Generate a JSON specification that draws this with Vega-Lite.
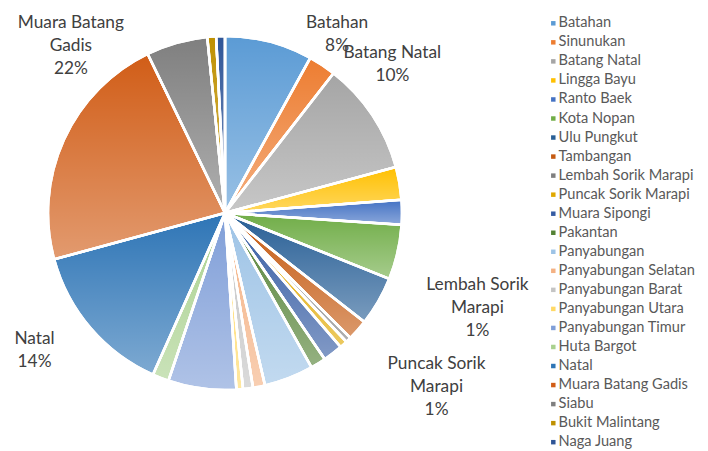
{
  "$schema": "https://vega.github.io/schema/vega-lite/v6.json",
  "autosize": {"type": "none"},
  "width": 450,
  "height": 426,
  "padding": {"left": 0, "top": 0, "right": 258, "bottom": 25},
  "background": "#ffffff",
  "config": {"view": {"stroke": null}, "font": "Lato"},
  "data": {
    "values": [
      {"i": 1, "kec": "Batahan", "pct": 8.0, "label": "Batahan\n8%"},
      {"i": 2, "kec": "Sinunukan", "pct": 2.5, "label": ""},
      {"i": 3, "kec": "Batang Natal", "pct": 10.3, "label": "Batang Natal\n10%"},
      {"i": 4, "kec": "Lingga Bayu", "pct": 3.0, "label": ""},
      {"i": 5, "kec": "Ranto Baek", "pct": 2.25, "label": ""},
      {"i": 6, "kec": "Kota Nopan", "pct": 5.0, "label": ""},
      {"i": 7, "kec": "Ulu Pungkut", "pct": 4.5, "label": ""},
      {"i": 8, "kec": "Tambangan", "pct": 1.9, "label": ""},
      {"i": 9, "kec": "Lembah Sorik Marapi", "pct": 0.5, "label": "Lembah Sorik\nMarapi\n1%"},
      {"i": 10, "kec": "Puncak Sorik Marapi", "pct": 0.7, "label": "Puncak Sorik\nMarapi\n1%"},
      {"i": 11, "kec": "Muara Sipongi", "pct": 1.8, "label": ""},
      {"i": 12, "kec": "Pakantan", "pct": 1.4, "label": ""},
      {"i": 13, "kec": "Panyabungan", "pct": 4.5, "label": ""},
      {"i": 14, "kec": "Panyabungan Selatan", "pct": 1.1, "label": ""},
      {"i": 15, "kec": "Panyabungan Barat", "pct": 0.9, "label": ""},
      {"i": 16, "kec": "Panyabungan Utara", "pct": 0.6, "label": ""},
      {"i": 17, "kec": "Panyabungan Timur", "pct": 6.2, "label": ""},
      {"i": 18, "kec": "Huta Bargot", "pct": 1.5, "label": ""},
      {"i": 19, "kec": "Natal", "pct": 14.1, "label": "Natal\n14%"},
      {"i": 20, "kec": "Muara Batang Gadis", "pct": 22.0, "label": "Muara Batang\nGadis\n22%"},
      {"i": 21, "kec": "Siabu", "pct": 5.6, "label": ""},
      {"i": 22, "kec": "Bukit Malintang", "pct": 0.8, "label": ""},
      {"i": 23, "kec": "Naga Juang", "pct": 0.8, "label": ""}
    ]
  },
  "encoding": {
    "theta": {"field": "pct", "type": "quantitative", "stack": true},
    "order": {"field": "i", "type": "quantitative"},
    "detail": {"field": "kec", "type": "nominal"}
  },
  "layer": [
    {
      "mark": {"type": "arc", "outerRadius": 177, "stroke": "#ffffff", "strokeWidth": 2.5},
      "encoding": {
        "color": {
          "field": "kec",
          "type": "nominal",
          "scale": {
            "domain": ["Batahan", "Sinunukan", "Batang Natal", "Lingga Bayu", "Ranto Baek", "Kota Nopan", "Ulu Pungkut", "Tambangan", "Lembah Sorik Marapi", "Puncak Sorik Marapi", "Muara Sipongi", "Pakantan", "Panyabungan", "Panyabungan Selatan", "Panyabungan Barat", "Panyabungan Utara", "Panyabungan Timur", "Huta Bargot", "Natal", "Muara Batang Gadis", "Siabu", "Bukit Malintang", "Naga Juang"],
            "range": ["#5b9bd5", "#ed7d31", "#a5a5a5", "#ffc000", "#4472c4", "#70ad47", "#285f96", "#c55a11", "#7f7f7f", "#e0a800", "#355ca3", "#548235", "#9dc3e6", "#f4b183", "#c4c4c4", "#ffd966", "#7f9ed8", "#a9d18e", "#2e75b6", "#d15d17", "#7f7f7f", "#bf9000", "#2f5597"]
          },
          "legend": {
            "title": null,
            "orient": "none",
            "legendX": 546,
            "legendY": 16,
            "padding": 0,
            "symbolType": "square",
            "symbolSize": 20,
            "symbolStrokeWidth": 0,
            "labelFont": "Lato",
            "labelFontSize": 14.6,
            "labelColor": "#595959",
            "labelOffset": -2,
            "labelLimit": 300,
            "rowPadding": 4.04
          }
        }
      }
    },
    {
      "mark": {
        "type": "arc",
        "outerRadius": 177,
        "stroke": "#ffffff",
        "strokeWidth": 2.5,
        "fill": {"gradient": "linear", "x1": 0, "y1": 0, "x2": 0, "y2": 1, "stops": [{"offset": 0, "color": "rgba(255,255,255,0)"}, {"offset": 1, "color": "rgba(255,255,255,0.38)"}]}
      }
    },
    {
      "mark": {"type": "text", "radius": 177, "dx": 68, "dy": -19, "fontSize": 17.3, "lineBreak": "\n", "lineHeight": 23, "color": "#404040", "align": "center", "baseline": "middle"},
      "encoding": {"text": {"condition": {"test": "datum.kec === 'Batahan'", "field": "label"}, "value": ""}}
    },
    {
      "mark": {"type": "text", "radius": 177, "dx": 20, "dy": -62, "fontSize": 17.3, "lineBreak": "\n", "lineHeight": 23, "color": "#404040", "align": "center", "baseline": "middle"},
      "encoding": {"text": {"condition": {"test": "datum.kec === 'Batang Natal'", "field": "label"}, "value": ""}}
    },
    {
      "mark": {"type": "text", "radius": 177, "dx": 129, "dy": -55, "fontSize": 17.3, "lineBreak": "\n", "lineHeight": 23, "color": "#404040", "align": "center", "baseline": "middle"},
      "encoding": {"text": {"condition": {"test": "datum.kec === 'Lembah Sorik Marapi'", "field": "label"}, "value": ""}}
    },
    {
      "mark": {"type": "text", "radius": 177, "dx": 93, "dy": 20, "fontSize": 17.3, "lineBreak": "\n", "lineHeight": 23, "color": "#404040", "align": "center", "baseline": "middle"},
      "encoding": {"text": {"condition": {"test": "datum.kec === 'Puncak Sorik Marapi'", "field": "label"}, "value": ""}}
    },
    {
      "mark": {"type": "text", "radius": 177, "dx": -56, "dy": 11, "fontSize": 17.3, "lineBreak": "\n", "lineHeight": 23, "color": "#404040", "align": "center", "baseline": "middle"},
      "encoding": {"text": {"condition": {"test": "datum.kec === 'Natal'", "field": "label"}, "value": ""}}
    },
    {
      "mark": {"type": "text", "radius": 177, "dx": 7, "dy": -117, "fontSize": 17.3, "lineBreak": "\n", "lineHeight": 23, "color": "#404040", "align": "center", "baseline": "middle"},
      "encoding": {"text": {"condition": {"test": "datum.kec === 'Muara Batang Gadis'", "field": "label"}, "value": ""}}
    }
  ]
}
